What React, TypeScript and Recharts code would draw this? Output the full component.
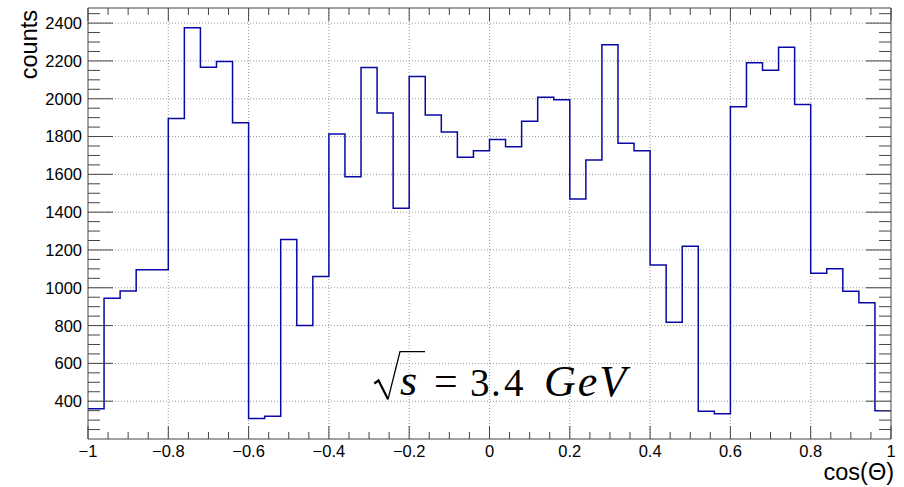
import React from 'react';
import {
  LineChart,
  Line,
  XAxis,
  YAxis,
  ReferenceLine,
} from 'recharts';

// histogram bin edges (cos theta) and bin contents
const binEdges = [
  -1, -0.96, -0.92, -0.88, -0.84, -0.8, -0.76, -0.72, -0.68, -0.64, -0.6,
  -0.56, -0.52, -0.48, -0.44, -0.4, -0.36, -0.32, -0.28, -0.24, -0.2,
  -0.16, -0.12, -0.08, -0.04, 0, 0.04, 0.08, 0.12, 0.16, 0.2,
  0.24, 0.28, 0.32, 0.36, 0.4, 0.44, 0.48, 0.52, 0.56, 0.6,
  0.64, 0.68, 0.72, 0.76, 0.8, 0.84, 0.88, 0.92, 0.96, 1,
];

const counts = [
  360, 945, 983, 1096, 1096, 1896, 2375, 2167, 2197, 1873,
  308, 321, 1255, 800, 1059, 1813, 1587, 2165, 1925, 1421,
  2117, 1914, 1824, 1690, 1725, 1785, 1746, 1881, 2008, 1994,
  1470, 1676, 2285, 1764, 1725, 1121, 817, 1220, 347, 333,
  1958, 2190, 2151, 2273, 1969, 1077, 1100, 981, 921, 349,
];

const xMajor = [-1, -0.8, -0.6, -0.4, -0.2, 0, 0.2, 0.4, 0.6, 0.8, 1];
const yMajor = [400, 600, 800, 1000, 1200, 1400, 1600, 1800, 2000, 2200, 2400];
const xGrid = [-0.8, -0.6, -0.4, -0.2, 0, 0.2, 0.4, 0.6, 0.8];

const X_DOMAIN: [number, number] = [-1, 1];
const Y_DOMAIN: [number, number] = [200, 2480];

// minor ticks: 4 divisions per major on x, 4 per major on y
const xTicks: number[] = [];
for (let i = 0; i <= 40; i++) xTicks.push(Number((-1 + i * 0.05).toFixed(2)));
const yTicks: number[] = [];
for (let v = 250; v <= 2450; v += 50) yTicks.push(v);

const data = binEdges.map((x, i) => ({
  x,
  y: counts[Math.min(i, counts.length - 1)],
}));

const FONT = 'Liberation Sans, Arial, Helvetica, sans-serif';
const SERIF = 'Liberation Serif, Times New Roman, Times, serif';
const TICK_COLOR = '#444';
const LINE_COLOR = '#0808a6';

const isXMajor = (v: number) => Math.abs(v * 5 - Math.round(v * 5)) < 1e-6;
const isYMajor = (v: number) => v % 200 === 0;

const fmtX = (v: number) => {
  if (Math.abs(v) < 1e-9) return '0';
  const s = String(Math.abs(v));
  return v < 0 ? '\u2212' + s : s;
};

function BottomTick(props: any) {
  const { x, y, payload } = props;
  const major = isXMajor(payload.value);
  const len = major ? 13 : 7;
  return (
    <g>
      <line x1={x} y1={y} x2={x} y2={y - len} stroke={TICK_COLOR} strokeWidth={1} />
      {major && (
        <text x={x} y={y + 17.5} textAnchor="middle" fontFamily={FONT} fontSize={16.5} fill="#000">
          {fmtX(payload.value)}
        </text>
      )}
    </g>
  );
}

function TopTick(props: any) {
  const { x, y, payload } = props;
  const len = isXMajor(payload.value) ? 13 : 7;
  return <line x1={x} y1={y} x2={x} y2={y + len} stroke={TICK_COLOR} strokeWidth={1} />;
}

function LeftTick(props: any) {
  const { x, y, payload } = props;
  const major = isYMajor(payload.value);
  const len = major ? 25 : 12;
  return (
    <g>
      <line x1={x} y1={y} x2={x + len} y2={y} stroke={TICK_COLOR} strokeWidth={1} />
      {major && (
        <text x={x - 6} y={y} dy="0.36em" textAnchor="end" fontFamily={FONT} fontSize={16.5} fill="#000">
          {payload.value}
        </text>
      )}
    </g>
  );
}

function RightTick(props: any) {
  const { x, y, payload } = props;
  const len = isYMajor(payload.value) ? 25 : 12;
  return <line x1={x} y1={y} x2={x - len} y2={y} stroke={TICK_COLOR} strokeWidth={1} />;
}

export default function App() {
  return (
    <div style={{ position: 'absolute', left: 0, top: 0, width: 904, height: 487, background: '#fff' }}>
      <LineChart
        width={904}
        height={487}
        data={data}
        margin={{ top: 0, right: 0, bottom: 0, left: 0 }}
      >
        <XAxis
          xAxisId="b"
          dataKey="x"
          type="number"
          domain={X_DOMAIN}
          allowDataOverflow
          ticks={xTicks}
          interval={0}
          height={48}
          tickSize={0}
          tickMargin={0}
          tickLine={false}
          axisLine={{ stroke: TICK_COLOR }}
          tick={<BottomTick />}
        />
        <XAxis
          xAxisId="t"
          orientation="top"
          dataKey="x"
          type="number"
          domain={X_DOMAIN}
          allowDataOverflow
          ticks={xTicks}
          interval={0}
          height={8}
          tickSize={0}
          tickMargin={0}
          tickLine={false}
          axisLine={{ stroke: TICK_COLOR }}
          tick={<TopTick />}
        />
        <YAxis
          yAxisId="l"
          type="number"
          domain={Y_DOMAIN}
          allowDataOverflow
          ticks={yTicks}
          interval={0}
          width={88}
          tickSize={0}
          tickMargin={0}
          tickLine={false}
          axisLine={{ stroke: TICK_COLOR }}
          tick={<LeftTick />}
        />
        <YAxis
          yAxisId="r"
          orientation="right"
          type="number"
          domain={Y_DOMAIN}
          allowDataOverflow
          ticks={yTicks}
          interval={0}
          width={13}
          tickSize={0}
          tickMargin={0}
          tickLine={false}
          axisLine={{ stroke: TICK_COLOR }}
          tick={<RightTick />}
        />
        {xGrid.map((v) => (
          <ReferenceLine
            key={`gx${v}`}
            x={v}
            xAxisId="b"
            yAxisId="l"
            stroke="#999"
            strokeDasharray="1 2"
          />
        ))}
        {yMajor.map((v) => (
          <ReferenceLine
            key={`gy${v}`}
            y={v}
            xAxisId="b"
            yAxisId="l"
            stroke="#999"
            strokeDasharray="1 2"
          />
        ))}
        <Line
          xAxisId="b"
          yAxisId="l"
          type="stepAfter"
          dataKey="y"
          stroke={LINE_COLOR}
          strokeWidth={1.5}
          dot={false}
          activeDot={false}
          isAnimationActive={false}
        />
      </LineChart>

      <svg
        width={904}
        height={487}
        style={{ position: 'absolute', left: 0, top: 0, pointerEvents: 'none' }}
      >
        {/* axis titles */}
        <text
          x={37}
          y={10}
          transform="rotate(-90, 37, 10)"
          textAnchor="end"
          fontFamily={FONT}
          fontSize={23.5}
          fill="#000"
        >
          counts
        </text>
        <text x={894} y={480} textAnchor="end" fontFamily={FONT} fontSize={23.5} fill="#000">
          cos(Θ)
        </text>

        {/* sqrt(s) = 3.4 GeV */}
        <polyline
          points="374.3,383.5 378.5,380.5 388,399.3"
          fill="none"
          stroke="#000"
          strokeWidth={2.2}
        />
        <polyline
          points="388,399.3 400,351.7 425,351.7"
          fill="none"
          stroke="#000"
          strokeWidth={1.3}
        />
        <g fontFamily={SERIF} fill="#000">
          <text x={400} y={395} fontSize={44} fontStyle="italic">s</text>
          <text x={434} y={395} fontSize={42}>=</text>
          <text x={470} y={395.5} fontSize={39}>3</text>
          <text x={491} y={395.5} fontSize={39}>.</text>
          <text x={504} y={395.5} fontSize={39}>4</text>
          <text x={544} y={395.5} fontSize={44} fontStyle="italic" letterSpacing={2}>
            GeV
          </text>
        </g>
      </svg>
    </div>
  );
}
